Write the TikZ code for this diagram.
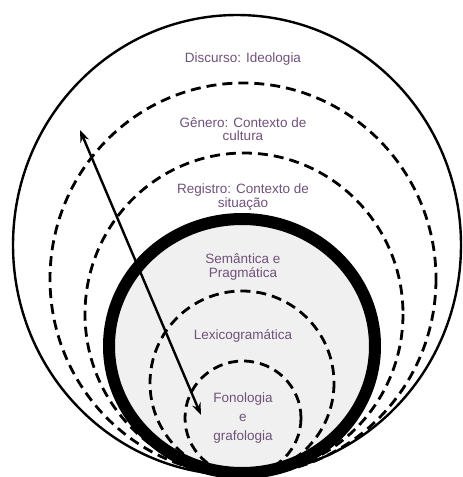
\documentclass[tikz,border=0pt]{standalone}
\usepackage{fontspec}
\setmainfont{Liberation Sans}
\usetikzlibrary{arrows.meta}
\definecolor{txt}{RGB}{112,82,122}
\definecolor{fillg}{RGB}{240,240,240}
\begin{document}
\begin{tikzpicture}[x=1pt,y=-1pt,
  ring/.style={line width=2.8pt,dash pattern=on 10pt off 6pt},
  lbl/.style={text=txt,font=\fontsize{13.5}{13.5}\selectfont,align=center,inner sep=0pt}]
\useasboundingbox (0,0) rectangle (463,477);
\fill[white] (0,0) rectangle (463,477);
% outer
\draw[line width=2.4pt] (237,245) ellipse [x radius=224, y radius=230];
% dashed rings
\draw[ring] (243,279) ellipse [x radius=193, y radius=196];
\draw[ring] (244,314) ellipse [x radius=159, y radius=161];
% thick ring
\draw[line width=12pt,fill=fillg] (242,346) ellipse [x radius=133, y radius=127];
% inner dashed rings
\draw[ring] (242,383) ellipse [x radius=92, y radius=92];
\draw[ring] (243,418) ellipse [x radius=58, y radius=57];
% arrow
\coordinate (top) at (80,130);
\coordinate (bot) at (201,415);
\draw[line width=2.4pt,{Stealth[length=12pt,width=9pt]}-{Stealth[length=12pt,width=9pt]}] (top) -- (bot);
% labels
\node[lbl] (d) at (243,59) {Discurso: Ideologia};
\node[lbl] (g) at (243,129) {Gênero: Contexto de\\cultura};
\node[lbl] (r) at (243,197) {Registro: Contexto de\\situação};
\node[lbl] (s) at (243,267) {Semântica e\\Pragmática};
\node[lbl] (l) at (243,336) {Lexicogramática};
\node[lbl,font=\fontsize{13.5}{19}\selectfont] (f) at (243,418) {Fonologia\\e\\grafologia};
\end{tikzpicture}
\end{document}
